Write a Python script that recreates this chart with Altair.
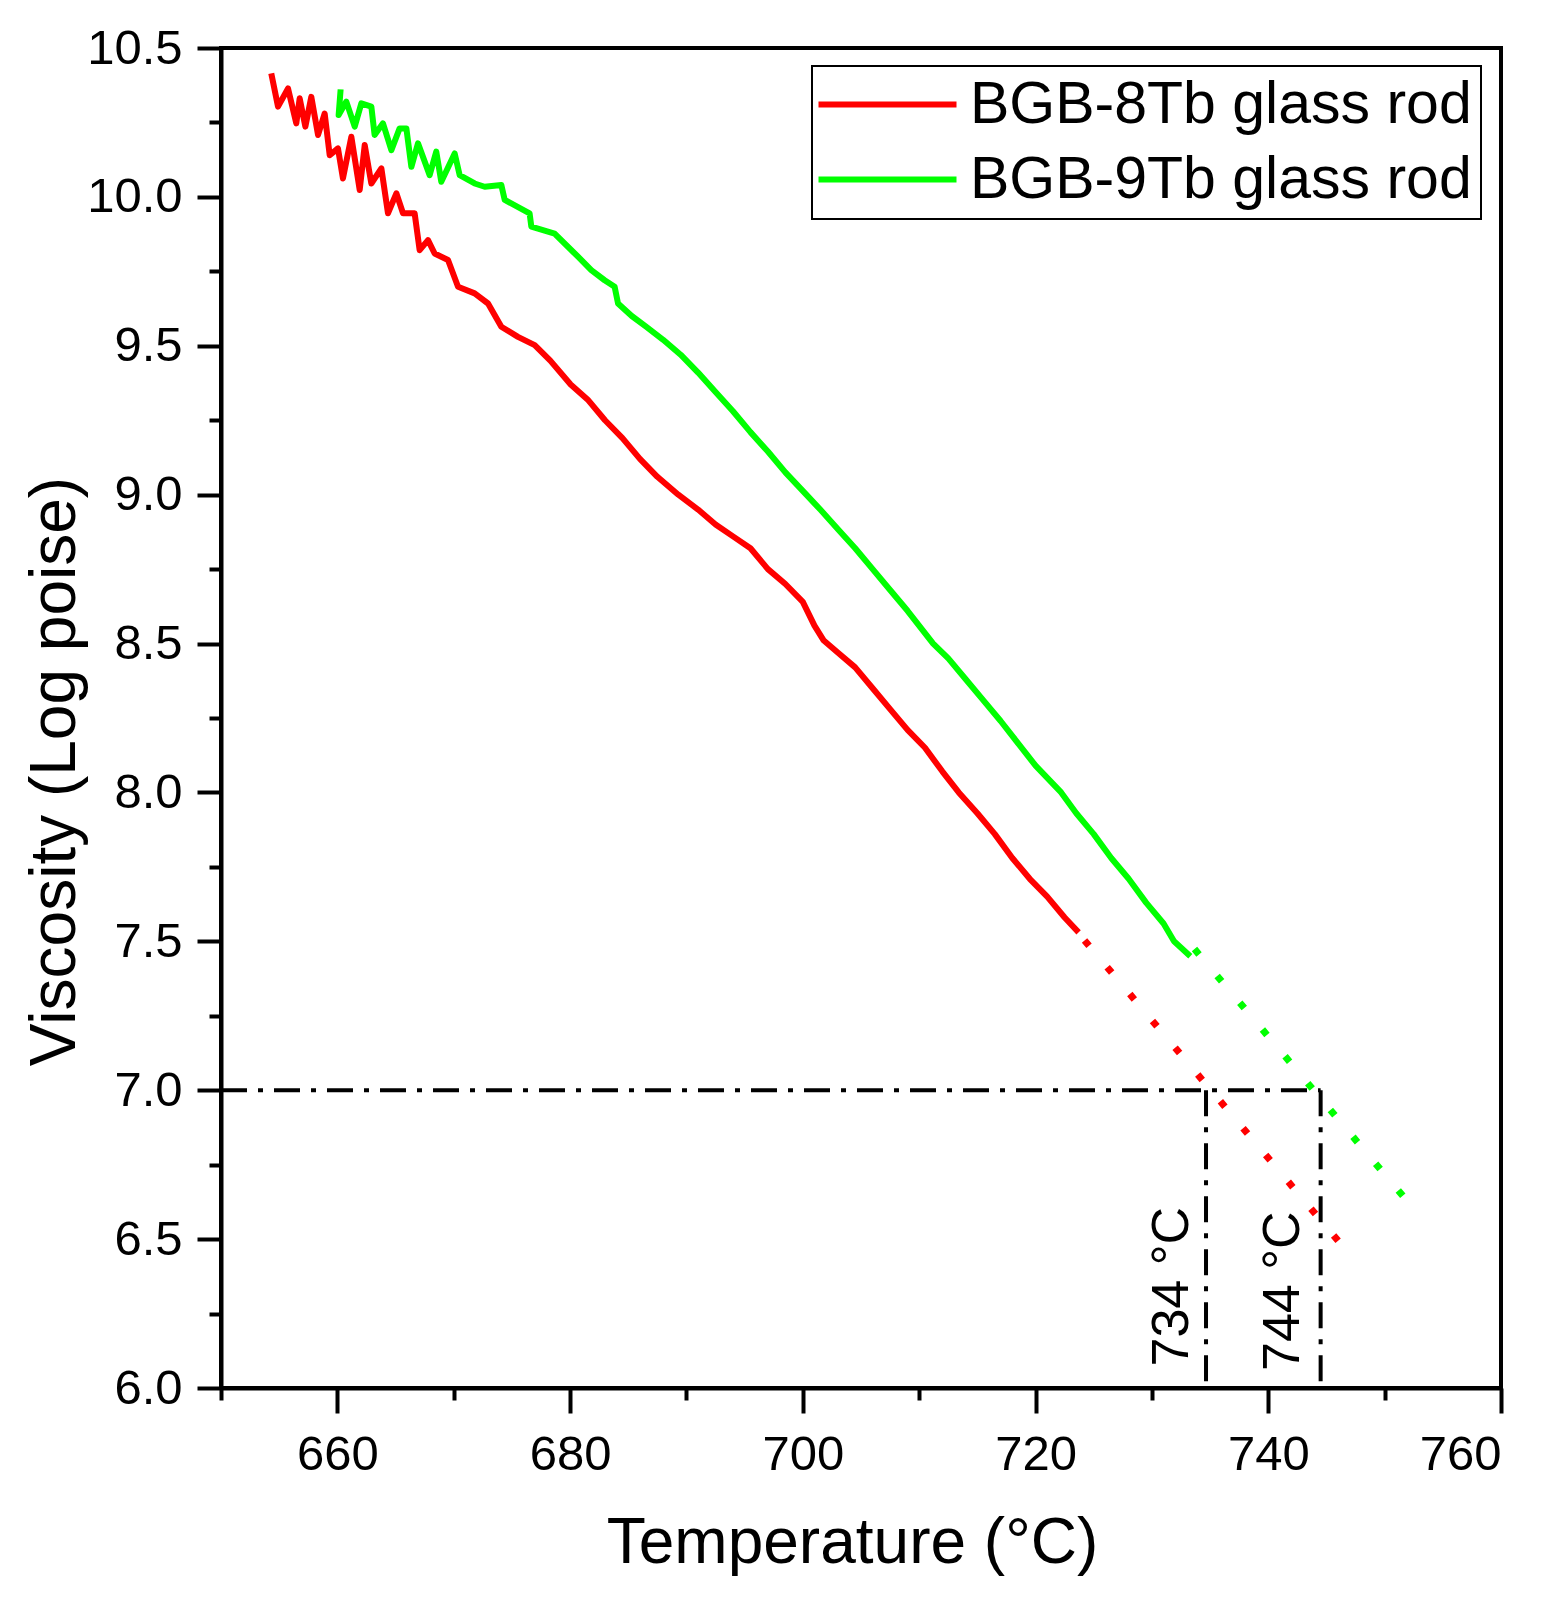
import altair as alt
import pandas as pd

series = ["BGB-8Tb glass rod", "BGB-9Tb glass rod"]
colors = ["#FF0000", "#00FF00"]

red_T = [654.32, 654.90, 655.76, 656.47, 656.76, 657.25, 657.76, 658.34, 658.91, 659.34,
         660.05, 660.48, 661.20, 661.92, 662.35, 662.92, 663.78, 664.35, 665.07, 665.64,
         666.64, 667.07, 667.79, 668.36, 669.51, 670.37, 671.80, 672.95, 674.09, 675.52,
         676.96, 678.30, 680.05, 681.50, 683.00, 684.50, 686.00, 687.50, 689.30, 691.00,
         692.50, 694.00, 695.50, 697.00, 698.50, 700.00, 701.00, 701.80, 703.00, 704.50,
         706.00, 707.50, 709.00, 710.50, 712.00, 713.40, 715.00, 716.50, 718.00, 719.50,
         721.00, 722.50, 723.70]
red_V = [10.415, 10.303, 10.364, 10.247, 10.331, 10.236, 10.336, 10.208, 10.280, 10.140,
         10.163, 10.062, 10.202, 10.023, 10.174, 10.045, 10.096, 9.945, 10.012, 9.945,
         9.945, 9.821, 9.855, 9.810, 9.788, 9.698, 9.676, 9.642, 9.564, 9.530,
         9.502, 9.450, 9.370, 9.320, 9.250, 9.190, 9.120, 9.060, 9.000, 8.950,
         8.900, 8.860, 8.820, 8.750, 8.700, 8.640, 8.560, 8.510, 8.470, 8.420,
         8.350, 8.280, 8.210, 8.150, 8.070, 8.000, 7.930, 7.860, 7.780, 7.710,
         7.650, 7.580, 7.530]

green_T = [660.28, 660.11, 660.77, 661.49, 662.06, 662.92, 663.20, 663.92, 664.64, 665.35,
           665.93, 666.36, 666.93, 667.93, 668.50, 668.93, 670.08, 670.51, 671.80, 672.66,
           674.09, 674.38, 676.52, 676.67, 678.67, 680.68, 681.82, 682.97, 683.83, 684.12,
           685.30, 686.50, 688.00, 689.50, 691.00, 692.50, 694.00, 695.50, 697.00, 698.50,
           700.30, 701.50, 703.00, 704.50, 706.00, 707.50, 709.00, 711.20, 712.50, 714.00,
           715.50, 717.00, 718.50, 720.00, 722.20, 723.50, 725.00, 726.50, 728.00, 729.50,
           731.00, 731.90, 733.30]
green_V = [10.361, 10.275, 10.320, 10.236, 10.314, 10.303, 10.208, 10.247, 10.157, 10.230,
           10.230, 10.101, 10.180, 10.073, 10.152, 10.051, 10.146, 10.073, 10.045, 10.034,
           10.040, 9.990, 9.945, 9.900, 9.877, 9.799, 9.754, 9.720, 9.698, 9.642,
           9.600, 9.565, 9.520, 9.470, 9.410, 9.345, 9.280, 9.210, 9.145, 9.075,
           9.000, 8.950, 8.885, 8.820, 8.750, 8.680, 8.610, 8.500, 8.450, 8.380,
           8.310, 8.240, 8.165, 8.090, 8.000, 7.930, 7.860, 7.780, 7.710, 7.630,
           7.560, 7.500, 7.450]

red_ext_T = [724.21, 746.01]
red_ext_V = [7.503, 6.494]
green_ext_T = [733.66, 751.57]
green_ext_V = [7.474, 6.645]

guide_x = [650.0, 734.65, 744.5]
guide_x2 = [744.5, 734.65, 744.5]
guide_y = [7.0, 7.0, 7.0]
guide_y2 = [7.0, 6.0, 6.0]

label_T = [731.7, 741.3]
label_V = [6.34, 6.325]
label_text = ["734 °C", "744 °C"]

x_ticks = list(range(650, 761, 10))
y_ticks = [6.0 + 0.25 * i for i in range(19)]

FONT = "Liberation Sans"

solid = pd.DataFrame({
    "T": red_T + green_T,
    "V": red_V + green_V,
    "series": [series[0]] * len(red_T) + [series[1]] * len(green_T),
    "i": list(range(len(red_T))) + list(range(len(green_T))),
})
red_ext = pd.DataFrame({"T": red_ext_T, "V": red_ext_V})
green_ext = pd.DataFrame({"T": green_ext_T, "V": green_ext_V})
guides = pd.DataFrame({"x": guide_x, "x2": guide_x2, "y": guide_y, "y2": guide_y2})
labels = pd.DataFrame({"T": label_T, "V": label_V, "text": label_text})

xscale = alt.Scale(domain=[650, 760], nice=False, zero=False)
yscale = alt.Scale(domain=[6.0, 10.5], nice=False, zero=False)
cscale = alt.Scale(domain=series, range=colors)

x_axis = alt.Axis(
    values=x_ticks,
    tickSize={"condition": {"test": "datum.value % 20 === 0", "value": 25}, "value": 12},
    labelExpr="datum.value % 20 === 0 ? datum.label : ''",
    labelPadding=17,
    title="Temperature (°C)",
    titleX=631, titleY=174, titleAlign="center", titleBaseline="alphabetic",
)
y_axis = alt.Axis(
    values=y_ticks,
    format=".1f",
    tickSize={"condition": {"test": "abs(datum.value*2 - round(datum.value*2)) < 0.001", "value": 24}, "value": 12},
    labelExpr="abs(datum.value*2 - round(datum.value*2)) < 0.001 ? datum.label : ''",
    labelPadding=15,
    title="Viscosity (Log poise)",
    titleX=-166, titleY=723, titleAngle=270, titleAlign="center", titleBaseline="middle",
)

lines = alt.Chart(solid).mark_line(strokeWidth=6, strokeJoin="round").encode(
    x=alt.X("T:Q", scale=xscale, axis=x_axis),
    y=alt.Y("V:Q", scale=yscale, axis=y_axis),
    color=alt.Color("series:N", scale=cscale, legend=alt.Legend(
        title=None, orient="none", legendX=591, legendY=18,
        symbolType="M-3,0H3", symbolStrokeWidth=6, symbolSize=2116, symbolOffset=37,
        labelFontSize=59, labelFont=FONT, labelColor="black", labelOffset=53, labelLimit=0,
        strokeColor="black", fillColor="white", padding=9, rowPadding=15,
    )),
    order="i:Q",
)

dash = dict(strokeWidth=7, strokeDash=[7, 28.1], strokeCap="butt")
red_dots = alt.Chart(red_ext).mark_line(color=colors[0], **dash).encode(
    x=alt.X("T:Q", scale=xscale), y=alt.Y("V:Q", scale=yscale))
green_dots = alt.Chart(green_ext).mark_line(color=colors[1], **dash).encode(
    x=alt.X("T:Q", scale=xscale), y=alt.Y("V:Q", scale=yscale))

rules = alt.Chart(guides).mark_rule(color="black", strokeWidth=4, strokeDash=[26, 11, 5, 11]).encode(
    x=alt.X("x:Q", scale=xscale), x2="x2:Q",
    y=alt.Y("y:Q", scale=yscale), y2="y2:Q",
)

texts = alt.Chart(labels).mark_text(
    angle=270, align="center", baseline="middle", font=FONT, fontSize=52, color="black"
).encode(
    x=alt.X("T:Q", scale=xscale),
    y=alt.Y("V:Q", scale=yscale),
    text="text:N",
)

chart = alt.layer(rules, red_dots, green_dots, lines, texts).properties(
    width=1280, height=1340,
    autosize=alt.AutoSizeParams(type="none"),
    padding={"left": 213, "top": 40, "right": 59, "bottom": 205},
    background="white",
).configure_view(
    stroke="black", strokeWidth=4,
).configure_axis(
    grid=False, domainColor="black", domainWidth=4, tickColor="black", tickWidth=4,
    labelColor="black", labelFont=FONT, labelFontSize=49,
    titleColor="black", titleFont=FONT, titleFontSize=64, titleFontWeight="normal",
).configure_legend(strokeWidth=2)

chart.save("out.html", embed_options={"renderer": "svg", "actions": False})
